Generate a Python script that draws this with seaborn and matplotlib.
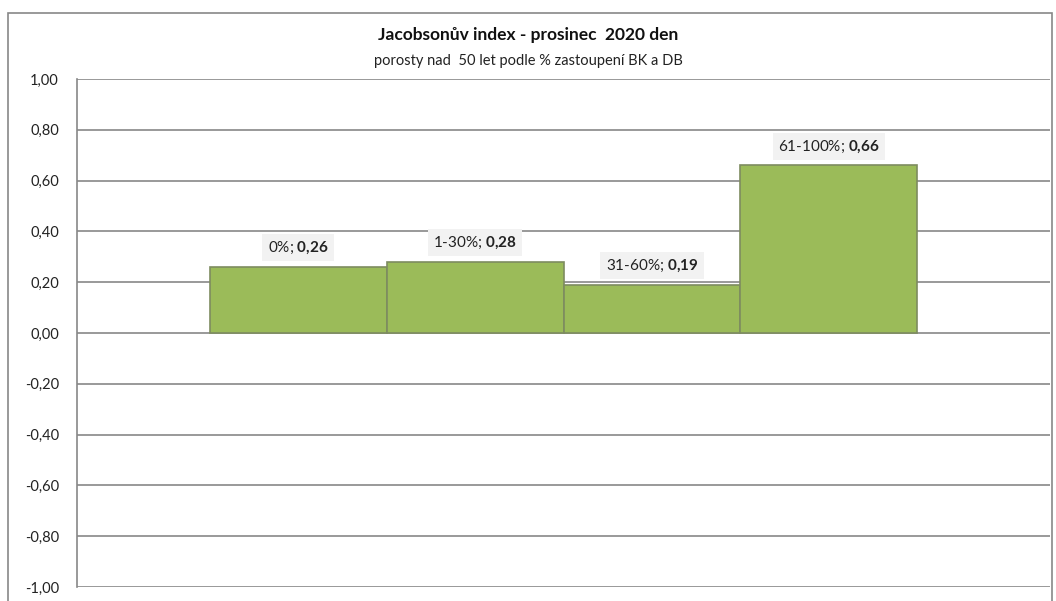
import matplotlib
matplotlib.use('Agg')
import matplotlib.pyplot as plt
import seaborn as sns
import pandas as pd
from matplotlib.patches import Rectangle
from matplotlib.ticker import FuncFormatter

# data
skupiny = ['0%', '1-30%', '31-60%', '61-100%']
hodnoty = [0.26, 0.28, 0.19, 0.66]
kategorie = ['']  # jedna kategorie, 4 serie (Excel styl)
y_ticks = [-1.0, -0.8, -0.6, -0.4, -0.2, 0.0, 0.2, 0.4, 0.6, 0.8, 1.0]

titulek = 'Jacobsonův index - prosinec  2020 den'
podtitulek = 'porosty nad  50 let podle % zastoupení BK a DB'

ZELENA = '#9BBB59'
OKRAJ = '#7E8C60'
SEDA = '#878787'

sns.set_theme(style='white')
plt.rcParams['font.family'] = ['Lato', 'DejaVu Sans']
plt.rcParams['mathtext.fontset'] = 'custom'
plt.rcParams['mathtext.rm'] = 'Lato'
plt.rcParams['mathtext.bf'] = 'Lato:bold'

df = pd.DataFrame({'kategorie': kategorie * len(skupiny),
                   'skupina': skupiny,
                   'hodnota': hodnoty})

fig = plt.figure(figsize=(10.56, 6.01), dpi=100)
ax = fig.add_axes([77 / 1056, 1 - 587 / 601, (1050 - 77) / 1056, (587 - 79) / 601])

sns.barplot(data=df, x='kategorie', y='hodnota', hue='skupina',
            hue_order=skupiny, palette=[ZELENA] * len(skupiny),
            width=4 / 5.5, dodge=True, legend=False, ax=ax,
            edgecolor=OKRAJ, linewidth=1.2, saturation=1, zorder=3)

ax.set_xlim(-0.5, 0.5)
ax.set_ylim(-1.0, 1.0)
ax.set_yticks(y_ticks)
ax.yaxis.set_major_formatter(FuncFormatter(lambda v, p: f'{v:.2f}'.replace('.', ',')))
ax.tick_params(axis='y', length=0, pad=13, labelsize=10.5, labelcolor='#222222')
ax.set_xticks([])
ax.set_xlabel('')
ax.set_ylabel('')

for y in y_ticks:
    ax.axhline(y, color=SEDA, lw=1.2, zorder=1)

for s in ['top', 'right', 'bottom']:
    ax.spines[s].set_visible(False)
ax.spines['left'].set_color(SEDA)
ax.spines['left'].set_linewidth(1.2)

# popisky nad sloupci
for cont, nazev, val in zip(ax.containers, skupiny, hodnoty):
    for bar in cont:
        cx = bar.get_x() + bar.get_width() / 2
        txt = val_txt = f'{val:.2f}'.replace('.', '{,}')
        ax.text(cx, bar.get_height() + 0.075,
                f'{nazev}; ' + r'$\mathbf{' + txt + '}$',
                ha='center', va='center', fontsize=11, color='#222222',
                bbox=dict(boxstyle='square,pad=0.35', fc='#F2F2F2', ec='none'),
                zorder=5)

# ramecek grafu
fig.patches.append(Rectangle((8 / 1056, -0.02), 1044 / 1056, 1 - 13 / 601 + 0.02,
                             transform=fig.transFigure, fill=False,
                             ec=SEDA, lw=1.2))

fig.text(0.5, 1 - 35 / 601, titulek, ha='center', va='center',
         fontsize=12.5, fontweight='bold', color='#111111')
fig.text(0.5, 1 - 61 / 601, podtitulek, ha='center', va='center',
         fontsize=10.5, color='#222222')

fig.savefig('out.png', dpi=100)
